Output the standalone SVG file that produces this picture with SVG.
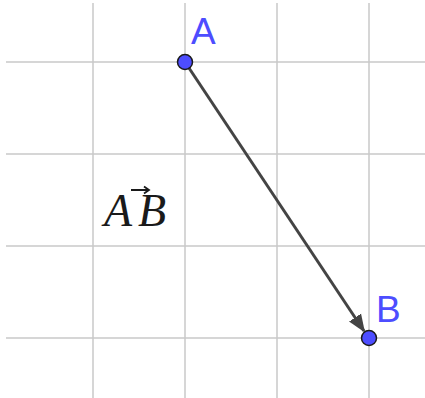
<svg xmlns="http://www.w3.org/2000/svg" width="425" height="398" viewBox="0 0 425 398">
<style>
.grid{stroke:#c8c8c8;stroke-width:1.5;fill:none}
.pt{fill:#4d4dff;stroke:#1a1a1a;stroke-width:1.5}
.lbl{font-family:"Liberation Sans",Arial,sans-serif;font-size:37px;fill:#4d4dff}
.math{font-family:"Liberation Serif","Times New Roman",serif;font-style:italic;font-size:46px;fill:#1a1a1a}
</style>
<defs>
<marker id="ah" viewBox="0 0 10 10" refX="9" refY="5" markerWidth="6" markerHeight="6" orient="auto" markerUnits="strokeWidth">
<path d="M0,1 L10,5 L0,9 Z" fill="#444"/>
</marker>
</defs>
<g id="grid">
<line class="grid" x1="93" y1="3" x2="93" y2="398"/>
<line class="grid" x1="185" y1="3" x2="185" y2="398"/>
<line class="grid" x1="277" y1="3" x2="277" y2="398"/>
<line class="grid" x1="369" y1="3" x2="369" y2="398"/>
<line class="grid" x1="6" y1="62" x2="425" y2="62"/>
<line class="grid" x1="6" y1="154" x2="425" y2="154"/>
<line class="grid" x1="6" y1="246" x2="425" y2="246"/>
<line class="grid" x1="6" y1="338" x2="425" y2="338"/>
</g>
<g id="connectors">
<line x1="185" y1="62" x2="364" y2="331" stroke="#444" stroke-width="3" marker-end="url(#ah)"/>
</g>
<g id="label-AB">
<text class="math" x="104" y="226" letter-spacing="6">AB</text>
<path d="M131,190 L148,190 M144,186.5 L149,190 L144,193.5" stroke="#1a1a1a" stroke-width="1.8" fill="none"/>
</g>
<g id="A">
<circle class="pt" cx="185" cy="62" r="7.5"/>
<text class="lbl" x="191" y="44">A</text>
</g>
<g id="B">
<circle class="pt" cx="369" cy="338" r="7.5"/>
<text class="lbl" x="376" y="321.5">B</text>
</g>
</svg>
